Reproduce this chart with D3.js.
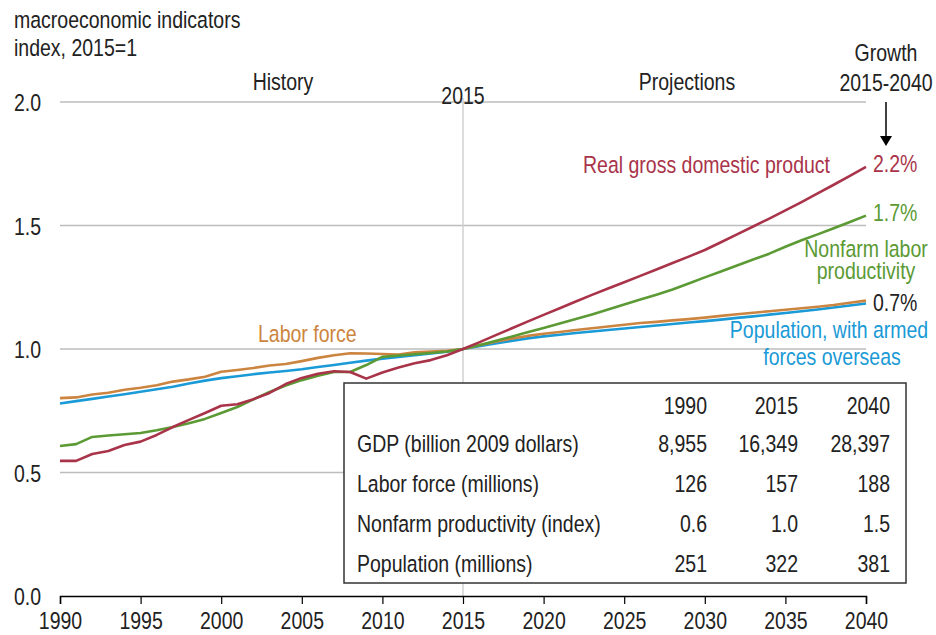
<!DOCTYPE html>
<html><head><meta charset="utf-8">
<script src="https://cdn.jsdelivr.net/npm/d3@7"></script>
<style>
html,body{margin:0;padding:0;background:#fff;}
text{font-family:"Liberation Sans",Arial,sans-serif;}
</style></head>
<body>
<svg id="chart" width="936" height="635"></svg>
<script>
const years = [1990,1991,1992,1993,1994,1995,1996,1997,1998,1999,2000,2001,2002,2003,2004,2005,2006,2007,2008,2009,2010,2011,2012,2013,2014,2015,2016,2017,2018,2019,2020,2021,2022,2023,2024,2025,2026,2027,2028,2029,2030,2031,2032,2033,2034,2035,2036,2037,2038,2039,2040];
const gdp = [0.547,0.547,0.575,0.587,0.611,0.625,0.652,0.684,0.713,0.741,0.770,0.776,0.797,0.822,0.858,0.883,0.900,0.910,0.907,0.880,0.905,0.925,0.942,0.955,0.975,1.000,
  1.027,1.055,1.083,1.111,1.138,1.165,1.192,1.219,1.245,1.270,1.296,1.322,1.348,1.374,1.401,1.432,1.464,1.496,1.528,1.561,1.595,1.630,1.665,1.701,1.737];
const productivity = [0.607,0.615,0.644,0.650,0.655,0.660,0.671,0.684,0.699,0.717,0.741,0.765,0.796,0.826,0.852,0.874,0.892,0.907,0.907,0.935,0.968,0.974,0.979,0.984,0.990,1.000,
  1.015,1.032,1.050,1.068,1.085,1.103,1.121,1.140,1.160,1.180,1.200,1.220,1.241,1.265,1.290,1.314,1.338,1.362,1.386,1.414,1.440,1.464,1.489,1.514,1.540];
const laborForce = [0.801,0.804,0.816,0.823,0.835,0.843,0.853,0.868,0.877,0.888,0.908,0.915,0.923,0.933,0.939,0.951,0.964,0.975,0.983,0.982,0.980,0.978,0.987,0.990,0.993,1.000,
  1.015,1.029,1.042,1.053,1.062,1.069,1.077,1.084,1.091,1.098,1.105,1.110,1.116,1.121,1.127,1.134,1.141,1.147,1.153,1.159,1.165,1.171,1.178,1.187,1.196];
const population = [0.779,0.789,0.798,0.808,0.817,0.827,0.837,0.847,0.860,0.872,0.882,0.890,0.898,0.905,0.911,0.918,0.927,0.935,0.944,0.953,0.961,0.968,0.975,0.982,0.989,1.000,
  1.011,1.022,1.033,1.043,1.051,1.058,1.065,1.071,1.077,1.083,1.089,1.095,1.101,1.107,1.113,1.119,1.126,1.132,1.139,1.146,1.153,1.160,1.168,1.176,1.184];

const yTicks = [0, 0.5, 1.0, 1.5, 2.0];
const xTicks = [1990,1995,2000,2005,2010,2015,2020,2025,2030,2035,2040];

const tableCols = ["1990","2015","2040"];
const tableRows = ["GDP (billion 2009 dollars)","Labor force (millions)","Nonfarm productivity (index)","Population (millions)"];
const tableVals = [["8,955","16,349","28,397"],["126","157","188"],["0.6","1.0","1.5"],["251","322","381"]];

const seriesNames = ["Real gross domestic product","Nonfarm labor productivity","Labor force","Population, with armed forces overseas"];
const growthLabels = ["2.2%","1.7%","0.7%"];

const COL = {gdp:"#a9344a", prod:"#5b9a34", labor:"#cc8540", pop:"#1a9ad6", txt:"#222"};

const svg = d3.select("#chart");
const x = d3.scaleLinear().domain([1990,2040]).range([60,866]);
const y = d3.scaleLinear().domain([0,2]).range([596,102]);
const FS = 23.5, SX = 0.83;

// condensed text helper
function label(parent, px, py, str, color, anchor){
  return parent.append("text")
    .attr("transform",`translate(${px},${py}) scale(${SX},1)`)
    .attr("text-anchor",anchor||"start")
    .attr("font-size",FS).attr("fill",color||COL.txt).text(str);
}

// gridlines
svg.append("g").selectAll("line").data(yTicks.filter(d=>d>0)).join("line")
  .attr("x1",x(1990)).attr("x2",x(2040)).attr("y1",d=>y(d)).attr("y2",d=>y(d))
  .attr("stroke","#bdbdbd").attr("stroke-width",1.5);
// 2015 vertical divider
svg.append("line").attr("x1",x(2015)).attr("x2",x(2015)).attr("y1",y(2.0)-4).attr("y2",y(0))
  .attr("stroke","#d0d0d0").attr("stroke-width",1.5);

// y labels
const gy = svg.append("g");
yTicks.forEach(d=>label(gy,14,y(d)+9,d.toFixed(1)));

// lines
const line = vals => d3.line().x((d,i)=>x(years[i])).y(d=>y(d))(vals);
[[population,COL.pop],[laborForce,COL.labor],[productivity,COL.prod],[gdp,COL.gdp]].forEach(([v,c])=>{
  svg.append("path").attr("d",line(v)).attr("fill","none").attr("stroke",c)
    .attr("stroke-width",2.6).attr("stroke-linejoin","round");
});

// x axis
const xAxis = d3.axisBottom(x).tickValues(xTicks).tickFormat(d3.format("d")).tickSize(8).tickPadding(8);
const gx = svg.append("g").attr("transform",`translate(0,${y(0)})`).call(xAxis);
gx.select(".domain").attr("stroke","#000").attr("stroke-width",1.5);
gx.selectAll(".tick line").attr("stroke","#000").attr("stroke-width",1.2);
gx.selectAll(".tick text").attr("font-size",FS).attr("fill",COL.txt).attr("font-family",null)
  .attr("transform",`scale(${SX},1)`);

// titles
label(svg,14,28,"macroeconomic indicators");
label(svg,14,56,"index, 2015=1");
label(svg,283,90,"History",null,"middle");
label(svg,x(2015),104,"2015",null,"middle");
label(svg,687,90,"Projections",null,"middle");
label(svg,886,61,"Growth",null,"middle");
label(svg,886,91,"2015-2040",null,"middle");

// arrow
svg.append("line").attr("x1",886).attr("x2",886).attr("y1",102).attr("y2",138).attr("stroke","#000").attr("stroke-width",1.5);
svg.append("path").attr("d","M880,136 L892,136 L886,146 Z").attr("fill","#000");

// series labels
label(svg,830,173,seriesNames[0],COL.gdp,"end");
label(svg,866,257,"Nonfarm labor",COL.prod,"middle");
label(svg,866,279,"productivity",COL.prod,"middle");
label(svg,258,342,seriesNames[2],COL.labor);
label(svg,829,338,"Population, with armed",COL.pop,"middle");
label(svg,832,365,"forces overseas",COL.pop,"middle");

// growth labels
[[gdp,COL.gdp],[productivity,COL.prod],[laborForce,COL.txt]].forEach(([v,c],i)=>{
  label(svg,873,y(v[v.length-1])+(i==2?10:5),growthLabels[i],c);
});

// table
const tb = svg.append("g");
tb.append("rect").attr("x",344).attr("y",383).attr("width",562).attr("height",200)
  .attr("fill","#fff").attr("stroke","#333").attr("stroke-width",1.5);
const colX = [707,798,890];
const rowY = [414,452,492,532,572];
tableCols.forEach((c,i)=>label(tb,colX[i],rowY[0],c,null,"end"));
tableRows.forEach((r,ri)=>{
  label(tb,357,rowY[ri+1],r);
  tableVals[ri].forEach((v,ci)=>label(tb,colX[ci],rowY[ri+1],v,null,"end"));
});
</script>
</body></html>
